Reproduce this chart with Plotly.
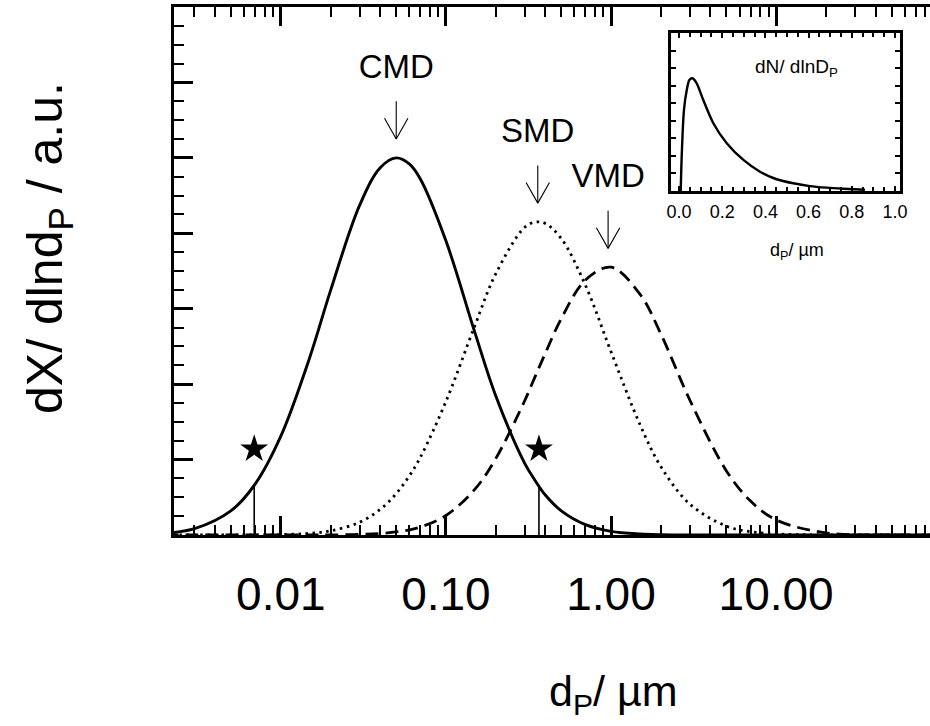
import plotly.graph_objects as go

# ---------------- data ----------------
dp = [0.002, 0.003, 0.005, 0.007, 0.01, 0.015, 0.02, 0.03, 0.04, 0.05, 0.06, 0.07,
      0.1, 0.15, 0.2, 0.3, 0.35, 0.4, 0.5, 0.7, 1, 1.5, 2, 3, 5, 7, 10, 20, 50, 100]

cmd_curve = [0.024, 0.083, 0.322, 0.677, 1.31, 2.36, 3.24, 4.37, 4.87, 5.00, 4.92, 4.72,
             3.90, 2.68, 1.85, 0.95, 0.71, 0.53, 0.32, 0.137, 0.048, 0.013, 0.004, 0.0,
             0.0, 0.0, 0.0, 0.0, 0.0, 0.0]

smd_curve = [0.0, 0.0, 0.0, 0.001, 0.005, 0.022, 0.055, 0.169, 0.339, 0.549, 0.783, 1.03,
             1.77, 2.78, 3.46, 4.08, 4.15, 4.13, 3.93, 3.31, 2.43, 1.46, 0.91, 0.41,
             0.117, 0.044, 0.014, 0.001, 0.0, 0.0]

vmd_curve = [0.0, 0.0, 0.0, 0.0, 0.0, 0.0, 0.002, 0.007, 0.020, 0.040, 0.068, 0.105,
             0.258, 0.608, 1.01, 1.78, 2.12, 2.41, 2.87, 3.38, 3.55, 3.19, 2.67, 1.79,
             0.85, 0.45, 0.20, 0.029, 0.001, 0.0]

mode_labels = ["CMD", "SMD", "VMD"]
mode_diam = [0.05, 0.36, 0.96]
mode_peak = [5.0, 4.15, 3.55]

star_x = [0.0069, 0.366]
star_y = [1.14, 1.14]
star_line_top = [0.66, 0.66]

inset_dp = [0.008, 0.0125, 0.023, 0.036, 0.048, 0.062, 0.082, 0.1125, 0.159, 0.221,
            0.298, 0.375, 0.452, 0.529, 0.606, 0.684, 0.761, 0.861]
inset_dn = [0.0, 0.195, 0.461, 0.575, 0.632, 0.642, 0.613, 0.518, 0.386, 0.272,
            0.177, 0.110, 0.067, 0.044, 0.028, 0.019, 0.013, 0.007]

main_tickvals = [0.01, 0.1, 1, 10]
main_ticktext = ["0.01", "0.10", "1.00", "10.00"]
main_minor = [m * d for d in [0.001, 0.01, 0.1, 1, 10] for m in range(2, 10)]
inset_tickvals = [0.0, 0.2, 0.4, 0.6, 0.8, 1.0]
inset_ticktext = ["0.0", "0.2", "0.4", "0.6", "0.8", "1.0"]

FONT = "Liberation Sans, Arial, Helvetica, sans-serif"

fig = go.Figure()

fig.add_trace(go.Scatter(x=dp, y=cmd_curve, mode="lines", line=dict(color="black", width=2.9, shape="spline"),
                         showlegend=False, hoverinfo="skip"))
fig.add_trace(go.Scatter(x=dp, y=smd_curve, mode="lines", line=dict(color="black", width=2.8, shape="spline", dash="2.5px,4.5px"),
                         showlegend=False, hoverinfo="skip"))
fig.add_trace(go.Scatter(x=dp, y=vmd_curve, mode="lines", line=dict(color="black", width=2.8, shape="spline", dash="13px,7px"),
                         showlegend=False, hoverinfo="skip"))

# star markers and their vertical lines
sl_x, sl_y = [], []
for sx, top in zip(star_x, star_line_top):
    sl_x += [sx, sx, None]
    sl_y += [0, top, None]
fig.add_trace(go.Scatter(x=sl_x, y=sl_y, mode="lines", line=dict(color="black", width=1.6),
                         showlegend=False, hoverinfo="skip"))
fig.add_trace(go.Scatter(x=star_x, y=star_y, mode="markers",
                         marker=dict(symbol="star", size=21, color="black", line=dict(width=0)),
                         showlegend=False, hoverinfo="skip"))

# arrows with open V heads
head = 10 ** 0.0709
ax_x, ax_y, lab_y = [], [], []
for xm, pk in zip(mode_diam, mode_peak):
    tip = pk + 0.25
    top = tip + 0.5
    ax_x += [xm, xm, None, xm / head, xm, xm * head, None]
    ax_y += [top, tip, None, tip + 0.274, tip, tip + 0.274, None]
    lab_y.append(top + 0.42)
fig.add_trace(go.Scatter(x=ax_x, y=ax_y, mode="lines", line=dict(color="black", width=1.1),
                         showlegend=False, hoverinfo="skip"))
fig.add_trace(go.Scatter(x=mode_diam, y=lab_y, mode="text", text=mode_labels,
                         textfont=dict(family=FONT, size=33, color="black"),
                         showlegend=False, hoverinfo="skip"))

# inset
fig.add_trace(go.Scatter(x=inset_dp, y=inset_dn, mode="lines", xaxis="x2", yaxis="y3",
                         line=dict(color="black", width=2.4, shape="spline", smoothing=0.8),
                         showlegend=False, hoverinfo="skip"))

fig.update_layout(
    width=930, height=726, autosize=False,
    margin=dict(l=174, r=0, t=7, b=191, autoexpand=False),
    paper_bgcolor="white", plot_bgcolor="white",
    font=dict(family=FONT, color="black"),
    xaxis=dict(type="log", range=[-2.647, 1.932], tickmode="array", tickvals=main_tickvals,
               ticktext=main_ticktext, ticks="inside", ticklen=19, tickwidth=2.5, tickcolor="black",
               showline=True, linewidth=3, linecolor="black", mirror="allticks", showgrid=False,
               zeroline=False, tickfont=dict(size=46, family=FONT), ticklabelstandoff=17,
               automargin=False,
               minor=dict(tickmode="array", tickvals=main_minor, ticks="inside", ticklen=10,
                          tickwidth=2.2, tickcolor="black", showgrid=False)),
    yaxis=dict(range=[0, 7], dtick=1, ticks="inside", ticklen=19, tickwidth=2.5, tickcolor="black",
               showline=True, linewidth=3, linecolor="black", mirror=False, showgrid=False,
               zeroline=False, showticklabels=False, automargin=False,
               minor=dict(dtick=0.25, ticks="inside", ticklen=10, tickwidth=2.2, tickcolor="black",
                          showgrid=False)),
    # right-hand ticks: the reference frame is cut off at the right edge,
    # so only the inner part of each tick is visible
    yaxis2=dict(overlaying="y", side="right", anchor="x", range=[0, 7], dtick=1, ticks="inside",
                ticklen=11, tickwidth=2.5, tickcolor="black", showline=False, showgrid=False,
                zeroline=False, showticklabels=False, automargin=False,
                minor=dict(dtick=0.25, ticks="inside", ticklen=3, tickwidth=2.2, tickcolor="black",
                           showgrid=False)),
    xaxis2=dict(domain=[0.6574, 0.9603], anchor="y3", range=[-0.037, 1.023], tickmode="array",
                tickvals=inset_tickvals, ticktext=inset_ticktext, ticks="inside", ticklen=5,
                tickwidth=1.6, tickcolor="black", showline=True, linewidth=2.5, linecolor="black",
                mirror="allticks", showgrid=False, zeroline=False, automargin=False,
                tickfont=dict(size=18, family=FONT), ticklabelstandoff=3,
                minor=dict(dtick=0.05, tick0=0, ticks="inside", ticklen=4, tickwidth=1.6,
                           tickcolor="black", showgrid=False)),
    yaxis3=dict(domain=[0.6515, 0.9508], anchor="x2", range=[0, 0.9], dtick=0.1, ticks="inside",
                ticklen=5, tickwidth=1.6, tickcolor="black", showline=True, linewidth=2.5,
                linecolor="black", mirror="allticks", showgrid=False, zeroline=False,
                showticklabels=False, automargin=False),
    annotations=[
        dict(text="dX/ dlnd<sub>P</sub> / a.u.", xref="paper", yref="paper", x=-0.1653, y=0.5436,
             textangle=-90, showarrow=False, font=dict(size=50, family=FONT),
             xanchor="center", yanchor="middle"),
        dict(text="d<sub>P</sub>/ µm", xref="paper", yref="paper", x=0.582, y=-0.301,
             showarrow=False, font=dict(size=43, family=FONT), xanchor="center", yanchor="middle"),
        dict(text="dN/ dlnD<sub>P</sub>", xref="paper", yref="paper", x=0.824, y=0.8845,
             showarrow=False, font=dict(size=19, family=FONT), xanchor="center", yanchor="middle"),
        dict(text="d<sub>P</sub>/ µm", xref="paper", yref="paper", x=0.824, y=0.5366,
             showarrow=False, font=dict(size=18, family=FONT), xanchor="center", yanchor="middle"),
    ],
)

fig.write_html(
    "out.html",
    config={"displayModeBar": False, "responsive": False},
    post_script=(
        "document.body.style.margin='0px';"
        "document.body.style.overflow='hidden';"
        "Plotly.relayout('{plot_id}', {width: 930, height: 726});"
    ),
)
